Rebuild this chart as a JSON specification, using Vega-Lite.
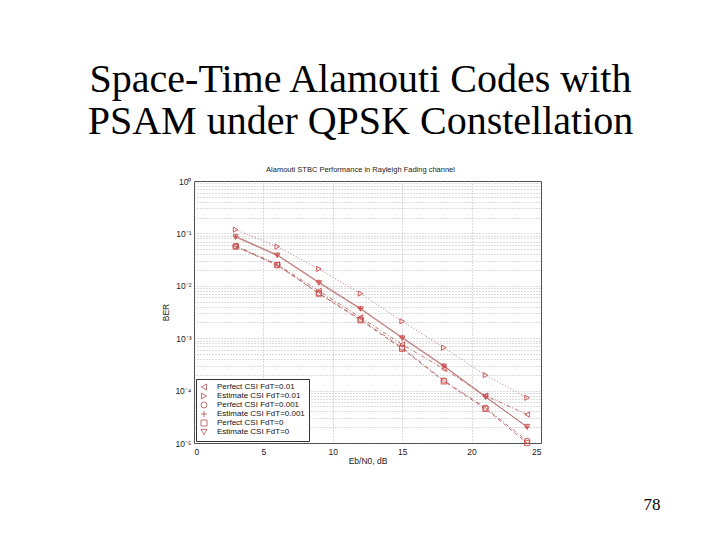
{
  "$schema": "https://vega.github.io/schema/vega-lite/v6.json",
  "width": 347,
  "height": 262,
  "autosize": {"type": "none"},
  "padding": {"left": 194, "top": 181, "right": 179, "bottom": 97},
  "background": "white",
  "title": {
    "text": ["Space-Time Alamouti Codes with", "PSAM under QPSK Constellation"],
    "subtitle": "Alamouti STBC Performance in Rayleigh Fading channel",
    "font": "Liberation Serif",
    "fontSize": 40,
    "fontWeight": "normal",
    "color": "black",
    "lineHeight": 42,
    "subtitleFont": "Liberation Sans",
    "subtitleFontSize": 7.5,
    "subtitleColor": "#222",
    "subtitlePadding": 24,
    "offset": 4,
    "anchor": "middle",
    "dx": -7
  },
  "data": {
    "values": [
      {"snr": 3, "ber": 0.058, "series": "Perfect CSI FdT=0.01"},
      {"snr": 6, "ber": 0.0255, "series": "Perfect CSI FdT=0.01"},
      {"snr": 9, "ber": 0.008, "series": "Perfect CSI FdT=0.01"},
      {"snr": 12, "ber": 0.0025, "series": "Perfect CSI FdT=0.01"},
      {"snr": 15, "ber": 0.00076, "series": "Perfect CSI FdT=0.01"},
      {"snr": 18, "ber": 0.00026, "series": "Perfect CSI FdT=0.01"},
      {"snr": 21, "ber": 0.00008, "series": "Perfect CSI FdT=0.01"},
      {"snr": 24, "ber": 0.000035, "series": "Perfect CSI FdT=0.01"},
      {"snr": 3, "ber": 0.118, "series": "Estimate CSI FdT=0.01"},
      {"snr": 6, "ber": 0.056, "series": "Estimate CSI FdT=0.01"},
      {"snr": 9, "ber": 0.021, "series": "Estimate CSI FdT=0.01"},
      {"snr": 12, "ber": 0.0071, "series": "Estimate CSI FdT=0.01"},
      {"snr": 15, "ber": 0.0021, "series": "Estimate CSI FdT=0.01"},
      {"snr": 18, "ber": 0.00066, "series": "Estimate CSI FdT=0.01"},
      {"snr": 21, "ber": 0.000197, "series": "Estimate CSI FdT=0.01"},
      {"snr": 24, "ber": 0.000073, "series": "Estimate CSI FdT=0.01"},
      {"snr": 3, "ber": 0.057, "series": "Perfect CSI FdT=0.001"},
      {"snr": 6, "ber": 0.025, "series": "Perfect CSI FdT=0.001"},
      {"snr": 9, "ber": 0.0072, "series": "Perfect CSI FdT=0.001"},
      {"snr": 12, "ber": 0.0023, "series": "Perfect CSI FdT=0.001"},
      {"snr": 15, "ber": 0.00066, "series": "Perfect CSI FdT=0.001"},
      {"snr": 18, "ber": 0.000156, "series": "Perfect CSI FdT=0.001"},
      {"snr": 21, "ber": 0.000047, "series": "Perfect CSI FdT=0.001"},
      {"snr": 24, "ber": 0.000011, "series": "Perfect CSI FdT=0.001"},
      {"snr": 3, "ber": 0.088, "series": "Estimate CSI FdT=0.001"},
      {"snr": 6, "ber": 0.039, "series": "Estimate CSI FdT=0.001"},
      {"snr": 9, "ber": 0.0118, "series": "Estimate CSI FdT=0.001"},
      {"snr": 12, "ber": 0.0037, "series": "Estimate CSI FdT=0.001"},
      {"snr": 15, "ber": 0.00104, "series": "Estimate CSI FdT=0.001"},
      {"snr": 18, "ber": 0.0003, "series": "Estimate CSI FdT=0.001"},
      {"snr": 21, "ber": 0.000077, "series": "Estimate CSI FdT=0.001"},
      {"snr": 24, "ber": 0.00002, "series": "Estimate CSI FdT=0.001"},
      {"snr": 3, "ber": 0.056, "series": "Perfect CSI FdT=0"},
      {"snr": 6, "ber": 0.0248, "series": "Perfect CSI FdT=0"},
      {"snr": 9, "ber": 0.0071, "series": "Perfect CSI FdT=0"},
      {"snr": 12, "ber": 0.0022, "series": "Perfect CSI FdT=0"},
      {"snr": 15, "ber": 0.00063, "series": "Perfect CSI FdT=0"},
      {"snr": 18, "ber": 0.00015, "series": "Perfect CSI FdT=0"},
      {"snr": 21, "ber": 0.000045, "series": "Perfect CSI FdT=0"},
      {"snr": 24, "ber": 0.00001, "series": "Perfect CSI FdT=0"},
      {"snr": 3, "ber": 0.085, "series": "Estimate CSI FdT=0"},
      {"snr": 6, "ber": 0.038, "series": "Estimate CSI FdT=0"},
      {"snr": 9, "ber": 0.0113, "series": "Estimate CSI FdT=0"},
      {"snr": 12, "ber": 0.0036, "series": "Estimate CSI FdT=0"},
      {"snr": 15, "ber": 0.001, "series": "Estimate CSI FdT=0"},
      {"snr": 18, "ber": 0.00029, "series": "Estimate CSI FdT=0"},
      {"snr": 21, "ber": 0.000075, "series": "Estimate CSI FdT=0"},
      {"snr": 24, "ber": 0.0000205, "series": "Estimate CSI FdT=0"}
    ]
  },
  "layer": [
    {
      "mark": {"type": "line", "strokeWidth": 0.9, "color": "#b86a6a", "clip": true},
      "encoding": {
        "x": {
          "field": "snr",
          "type": "quantitative",
          "scale": {"domain": [0, 25], "nice": false},
          "axis": {
            "title": "Eb/N0, dB",
            "values": [0, 5, 10, 15, 20, 25],
            "grid": true,
            "ticks": false,
            "domain": false,
            "labelPadding": 4,
            "titlePadding": 1
          }
        },
        "y": {
          "field": "ber",
          "type": "quantitative",
          "scale": {"type": "log", "domain": [0.00001, 1], "nice": false},
          "axis": {
            "title": "BER",
            "values": [0.00001, 0.00002, 0.00003, 0.00004, 0.00005, 0.00006, 0.00007, 0.00008, 0.00009,
                       0.0001, 0.0002, 0.0003, 0.0004, 0.0005, 0.0006, 0.0007, 0.0008, 0.0009,
                       0.001, 0.002, 0.003, 0.004, 0.005, 0.006, 0.007, 0.008, 0.009,
                       0.01, 0.02, 0.03, 0.04, 0.05, 0.06, 0.07, 0.08, 0.09,
                       0.1, 0.2, 0.3, 0.4, 0.5, 0.6, 0.7, 0.8, 0.9, 1],
            "labelExpr": "abs(log(datum.value)/LN10 - round(log(datum.value)/LN10)) < 0.000001 ? '10' + (round(log(datum.value)/LN10) == 0 ? '⁰' : '⁻' + ['', '¹', '²', '³', '⁴', '⁵'][-round(log(datum.value)/LN10)]) : ''",
            "grid": true,
            "ticks": false,
            "domain": false,
            "labelPadding": 3,
            "titlePadding": 4
          }
        },
        "strokeDash": {
          "field": "series",
          "type": "nominal",
          "scale": {
            "domain": ["Estimate CSI FdT=0.01", "Perfect CSI FdT=0.01", "Perfect CSI FdT=0.001", "Estimate CSI FdT=0.001", "Perfect CSI FdT=0", "Estimate CSI FdT=0"],
            "range": [[1, 2], [4, 2, 1, 2], [4, 2, 1, 2], [1, 0], [4, 3], [1, 0]]
          },
          "legend": null
        }
      }
    },
    {
      "mark": {"type": "point", "filled": false, "size": 28, "strokeWidth": 0.9, "color": "#cc4c4c", "opacity": 1},
      "encoding": {
        "x": {"field": "snr", "type": "quantitative"},
        "y": {"field": "ber", "type": "quantitative"},
        "shape": {
          "field": "series",
          "type": "nominal",
          "scale": {
            "domain": ["Perfect CSI FdT=0.01", "Estimate CSI FdT=0.01", "Perfect CSI FdT=0.001", "Estimate CSI FdT=0.001", "Perfect CSI FdT=0", "Estimate CSI FdT=0"],
            "range": ["triangle-left", "triangle-right", "circle", "M-1,0H1M0,-1V1", "square", "triangle-down"]
          },
          "legend": {
            "title": null,
            "orient": "bottom-left",
            "offset": 2,
            "padding": 4,
            "fillColor": "white",
            "strokeColor": "#333",
            "labelFont": "Liberation Sans",
            "labelFontSize": 8,
            "labelColor": "#111",
            "labelOffset": 9,
            "rowPadding": -1,
            "symbolSize": 36,
            "symbolStrokeWidth": 0.8,
            "symbolStrokeColor": "#b05050",
            "symbolFillColor": "transparent"
          }
        }
      }
    },
    {
      "data": {"values": [{"page": "78"}]},
      "mark": {"type": "text", "font": "Liberation Serif", "fontSize": 17, "baseline": "middle", "align": "center", "color": "black"},
      "encoding": {
        "x": {"datum": 33, "type": "quantitative"},
        "y": {"datum": 0.00000066, "type": "quantitative"},
        "text": {"field": "page"}
      }
    }
  ],
  "config": {
    "font": "Liberation Sans",
    "view": {"stroke": "#444", "strokeWidth": 1},
    "axis": {
      "gridColor": "#8a8a8a",
      "gridDash": [1, 2],
      "gridWidth": 0.6,
      "labelFont": "Liberation Sans",
      "labelFontSize": 8.5,
      "labelColor": "#222",
      "titleFont": "Liberation Sans",
      "titleFontSize": 8.5,
      "titleFontWeight": "normal",
      "titleColor": "#222"
    }
  }
}
